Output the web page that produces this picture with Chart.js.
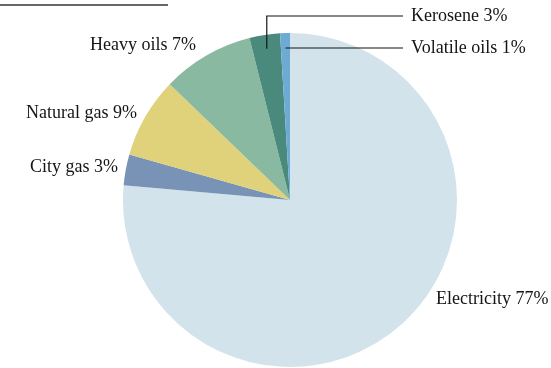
<!DOCTYPE html>
<html>
<head>
<meta charset="utf-8">
<script src="https://cdn.jsdelivr.net/npm/chart.js@4"></script>
<style>
    body { margin: 0; background: #fff; }
    #wrap { width: 551px; height: 368px; position: relative; }
</style>
</head>
<body>
<div id="wrap"><canvas id="chart"></canvas></div>
<script>
const sources = ['Electricity', 'City gas', 'Natural gas', 'Heavy oils', 'Kerosene', 'Volatile oils'];
const shares = [76.4, 3.0, 7.8, 8.9, 2.95, 0.95];
const shareLabels = ['77%', '3%', '9%', '7%', '3%', '1%'];
const sliceColors = ['#d3e3eb', '#7893b5', '#e0d27b', '#89b9a1', '#4a8a7d', '#6dabd5'];

// text offsets from the pie centre, plus alignment
const labelSpots = [
    { dx: 146, dy: 99, align: 'left' },
    { dx: -172, dy: -33, align: 'right' },
    { dx: -153, dy: -87, align: 'right' },
    { dx: -94, dy: -155, align: 'right' },
    { dx: 121, dy: -184, align: 'left' },
    { dx: 121, dy: -152, align: 'left' },
];

const labelPlugin = {
    id: 'sliceLabels',
    afterDraw(chart) {
        const ctx = chart.ctx;
        const arcs = chart.getDatasetMeta(0).data;
        const cx = arcs[0].x, cy = arcs[0].y, r = arcs[0].outerRadius;
        ctx.save();
        ctx.font = '18px "Liberation Serif", serif';
        ctx.fillStyle = '#151515';
        ctx.textBaseline = 'middle';
        sources.forEach((name, i) => {
            const s = labelSpots[i];
            ctx.textAlign = s.align;
            ctx.fillText(name + ' ' + shareLabels[i], cx + s.dx, cy + s.dy);
        });

        // leader lines for the two thin slices
        ctx.strokeStyle = '#151515';
        ctx.lineWidth = 1.2;
        const kero = arcs[4];
        const kMid = (kero.startAngle + kero.endAngle) / 2;
        const kx = cx + Math.cos(kMid) * (r - 14);
        const ky = cy + Math.sin(kMid) * (r - 14);
        ctx.beginPath();
        ctx.moveTo(kx, ky);
        ctx.lineTo(kx, cy + labelSpots[4].dy);
        ctx.lineTo(cx + labelSpots[4].dx - 8, cy + labelSpots[4].dy);
        ctx.stroke();

        const vol = arcs[5];
        const vMid = (vol.startAngle + vol.endAngle) / 2;
        const vx = cx + Math.cos(vMid) * (r - 16);
        ctx.beginPath();
        ctx.moveTo(vx, cy + labelSpots[5].dy);
        ctx.lineTo(cx + labelSpots[5].dx - 8, cy + labelSpots[5].dy);
        ctx.stroke();

        // rule at the top left
        ctx.strokeStyle = '#666';
        ctx.lineWidth = 2;
        ctx.beginPath();
        ctx.moveTo(0, 5);
        ctx.lineTo(168, 5);
        ctx.stroke();
        ctx.restore();
    }
};

new Chart(document.getElementById('chart'), {
    type: 'pie',
    data: {
        labels: sources,
        datasets: [{
            data: shares,
            backgroundColor: sliceColors,
            borderWidth: 0,
        }]
    },
    options: {
        responsive: true,
        maintainAspectRatio: false,
        animation: false,
        layout: {
            padding: { left: 123, right: 94, top: 33, bottom: 1 }
        },
        plugins: {
            legend: { display: false },
            tooltip: { enabled: false },
        }
    },
    plugins: [labelPlugin]
});
</script>
</body>
</html>
